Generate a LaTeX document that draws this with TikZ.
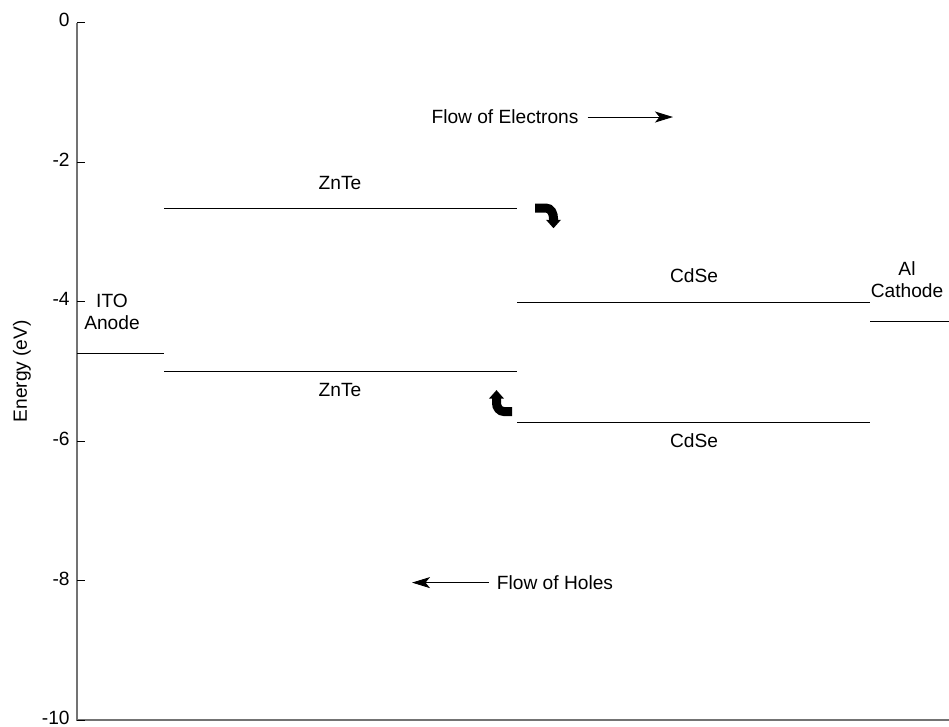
\documentclass[tikz,border=0pt]{standalone}
\usepackage{fontspec}
\setmainfont{Liberation Sans}
\usetikzlibrary{arrows.meta,positioning}
\tikzstyle{level} = [line width=0.55pt, black]
\tikzstyle{axis} = [line width=0.9pt, black!55]
\tikzstyle{lbl} = [font=\fontsize{10.9}{12.6}\selectfont, align=center, inner sep=0pt]
\tikzstyle{flow} = [-{Stealth[length=3.6mm,width=2.2mm,inset=0.9mm]}, line width=0.55pt]
\tikzstyle{bent} = [line width=1.8mm, -{Triangle[length=1.7mm,width=2.9mm]}]

\begin{document}
\begin{tikzpicture}[x=0.2mm, y=1.395cm]
  \useasboundingbox (0,0.3226) rectangle (949,-10.1);

  % axes
  \draw[axis] (949,-10) -- (77,-10) -- (77,0);
  \foreach \e [count=\i] in {0,-2,...,-10} {
    \draw[level] (77,\e) -- (85,\e);
    \node[lbl, anchor=east, yshift=1.2pt] (tick\i) at (70,\e) {\e};
  }
  \node[lbl, rotate=90] (elabel) at (22,-5) {Energy (eV)};

  % energy levels
  \draw[level] (77,-4.74) -- (164,-4.74);
  \draw[level] (164,-2.66) -- (517,-2.66);
  \draw[level] (164,-5.01) -- (517,-5.01);
  \draw[level] (517,-4.01) -- (870,-4.01);
  \draw[level] (517,-5.74) -- (870,-5.74);
  \draw[level] (870,-4.28) -- (949,-4.28);

  \node[lbl] (ito) at (112,-4.15) {ITO\\Anode};
  \node[lbl] (znte1) at (340,-2.30) {ZnTe};
  \node[lbl] (znte2) at (340,-5.27) {ZnTe};
  \node[lbl] (cdse1) at (694,-3.63) {CdSe};
  \node[lbl] (cdse2) at (694,-5.99) {CdSe};
  \node[lbl] (al) at (907,-3.69) {Al\\Cathode};

  % flows
  \node[lbl] (electrons) at (505,-1.355) {Flow of Electrons};
  \coordinate (etip) at (673,-1.355);
  \draw[flow] ([xshift=5pt]electrons.east) -- (etip);

  \node[lbl] (holes) at (555,-8.03) {Flow of Holes};
  \coordinate (htip) at (412,-8.03);
  \draw[flow] ([xshift=-4.5pt]holes.west) -- (htip);

  % transfer arrows
  \coordinate (e0) at (535,-2.66);
  \coordinate (e1) at (546,-2.66);
  \coordinate (e2) at (553.5,-2.95);
  \draw[bent] (e0) -- (e1) to[out=0,in=90] ++(7.5,-0.15) -- (e2);

  \coordinate (h0) at (512,-5.577);
  \coordinate (h1) at (504,-5.577);
  \coordinate (h2) at (496.5,-5.27);
  \draw[bent] (h0) -- (h1) to[out=180,in=-90] ++(-7.5,0.12) -- (h2);
\end{tikzpicture}
\end{document}
